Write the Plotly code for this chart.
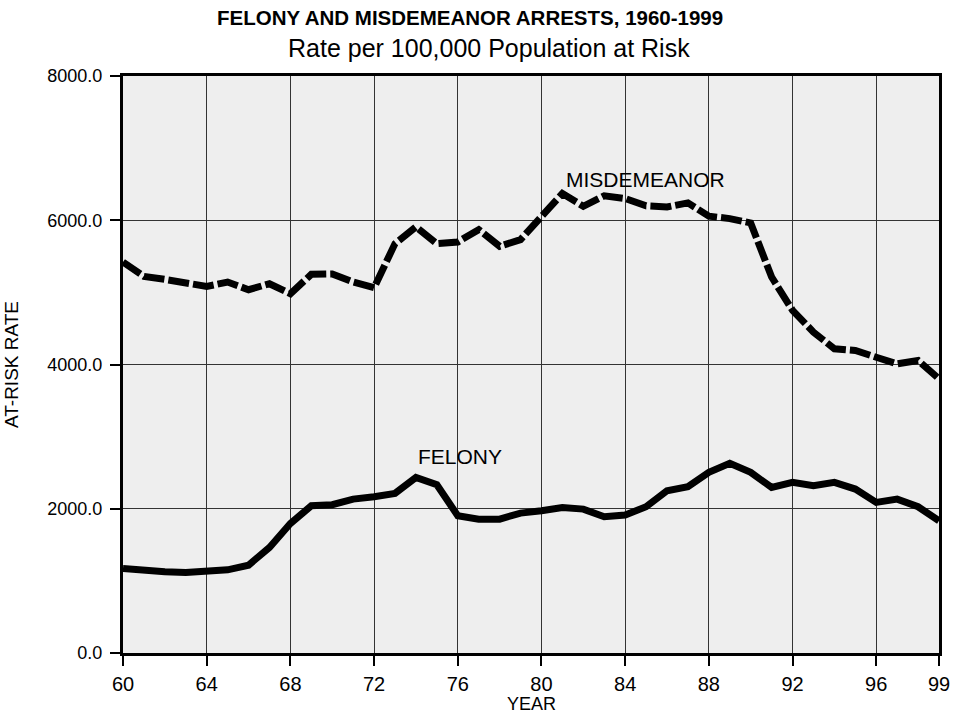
import plotly.graph_objects as go

years = list(range(60, 100))
misdemeanor = [5420, 5222, 5180, 5130, 5083, 5143, 5037, 5120, 4981, 5250,
               5255, 5143, 5065, 5676, 5907, 5676, 5699, 5870, 5639, 5731,
               6040, 6370, 6194, 6338, 6301, 6199, 6185, 6241, 6056, 6023,
               5963, 5213, 4750, 4449, 4218, 4194, 4101, 4009, 4056, 3801]
felony = [1171, 1140, 1125, 1115, 1130, 1153, 1218, 1463, 1796, 2042,
          2056, 2134, 2167, 2213, 2435, 2333, 1903, 1856, 1856, 1940,
          1972, 2018, 1995, 1889, 1912, 2028, 2250, 2306, 2504, 2630,
          2504, 2296, 2366, 2319, 2366, 2273, 2088, 2134, 2028, 1833]
x_ticks = [60, 64, 68, 72, 76, 80, 84, 88, 92, 96, 99]
y_ticks = [0, 2000, 4000, 6000, 8000]

FONT = "Liberation Sans, Arial, sans-serif"

fig = go.Figure()
fig.add_trace(go.Scatter(x=years, y=misdemeanor, mode="lines",
                         line=dict(color="black", width=7, dash="21px,4px"),
                         name="MISDEMEANOR"))
fig.add_trace(go.Scatter(x=years, y=felony, mode="lines",
                         line=dict(color="black", width=7),
                         name="FELONY"))

fig.add_annotation(x=84.95, y=6570, text="MISDEMEANOR", showarrow=False,
                   font=dict(family=FONT, size=21, color="black"))
fig.add_annotation(x=76.12, y=2730, text="FELONY", showarrow=False,
                   font=dict(family=FONT, size=21, color="black"))

fig.add_annotation(xref="paper", yref="paper", x=0.425, y=1.0, yshift=58.5,
                   text="<b>FELONY AND MISDEMEANOR ARRESTS, 1960-1999</b>",
                   showarrow=False, yanchor="middle",
                   font=dict(family=FONT, size=20.5, color="black"))
fig.add_annotation(xref="paper", yref="paper", x=0.448, y=1.0, yshift=28.5,
                   text="Rate per 100,000 Population at Risk",
                   showarrow=False, yanchor="middle",
                   font=dict(family=FONT, size=25, color="black"))
# x-axis title placed as an annotation below the tick labels
fig.add_annotation(xref="paper", yref="paper", x=0.5, y=0.0, yshift=-50.5,
                   text="YEAR", showarrow=False, yanchor="middle",
                   font=dict(family=FONT, size=18, color="black"))

fig.update_layout(
    width=953, height=715,
    margin=dict(l=123, r=14, t=76, b=62),
    paper_bgcolor="white",
    plot_bgcolor="#eeeeee",
    showlegend=False,
    font=dict(family=FONT, size=20, color="black"),
)
fig.update_xaxes(range=[60, 99], tickvals=x_ticks, ticktext=[str(t) for t in x_ticks],
                 showgrid=True, gridcolor="#333333", gridwidth=1,
                 showline=True, linecolor="black", linewidth=3, mirror=True,
                 ticks="outside", ticklen=10, tickwidth=2, tickcolor="black",
                 zeroline=False, tickfont=dict(size=20), automargin=False,
                 ticklabelstandoff=1)
fig.update_yaxes(range=[0, 8000], tickvals=y_ticks, tickformat=".1f",
                 showgrid=True, gridcolor="#333333", gridwidth=1,
                 showline=True, linecolor="black", linewidth=3, mirror=True,
                 ticks="outside", ticklen=10, tickwidth=2, tickcolor="black",
                 zeroline=False, tickfont=dict(size=18), ticklabelstandoff=4,
                 automargin=False,
                 title=dict(text="AT-RISK RATE", standoff=24, font=dict(size=19)))

fig.write_html("out.html", config={"displayModeBar": False},
               post_script="document.body.style.margin='0';document.body.style.padding='0';")
